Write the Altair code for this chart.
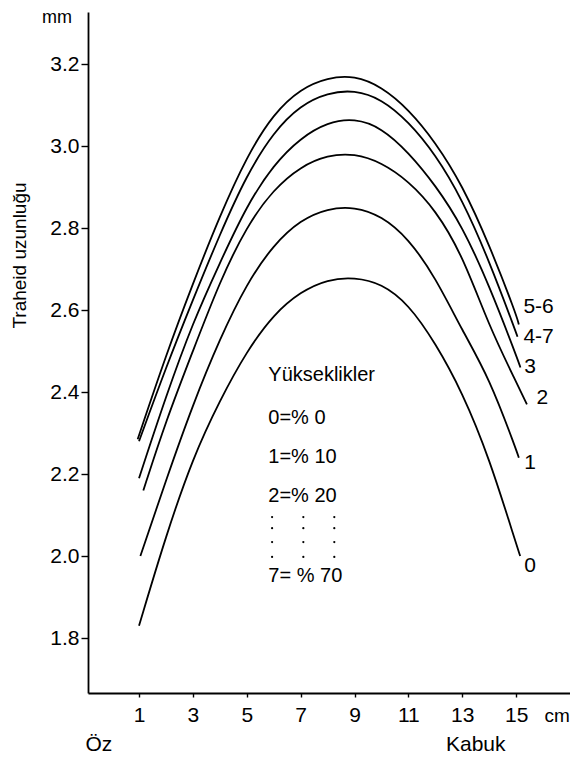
import altair as alt
import pandas as pd

FONT = "Liberation Sans"

# ---- curves: traheid length (mm) vs distance from pith (cm) at each height ----
c0_x = [1, 2, 3, 4, 5, 6, 7, 8, 9, 10, 11, 12, 13, 14, 15, 15.15]
c0_y = [1.83, 2.05, 2.24, 2.38, 2.50, 2.59, 2.645, 2.675, 2.68, 2.665, 2.615, 2.52, 2.40, 2.24, 2.03, 2.0]

c1_x = [1.05, 2, 3, 4, 5, 6, 7, 8, 9, 10, 11, 12, 13, 14, 15, 15.1]
c1_y = [2.0, 2.185, 2.37, 2.53, 2.665, 2.76, 2.82, 2.848, 2.852, 2.83, 2.775, 2.68, 2.55, 2.435, 2.26, 2.24]

c2_x = [1.16, 2, 3, 4, 5, 6, 7, 8, 9, 10, 11, 12, 13, 14, 15, 15.4]
c2_y = [2.16, 2.33, 2.50, 2.67, 2.805, 2.895, 2.95, 2.978, 2.982, 2.96, 2.915, 2.845, 2.735, 2.56, 2.425, 2.37]

c3_x = [1, 2, 3, 4, 5, 6, 7, 8, 9, 10, 11, 12, 13, 14, 15, 15.16]
c3_y = [2.19, 2.39, 2.57, 2.715, 2.855, 2.955, 3.02, 3.058, 3.068, 3.045, 2.985, 2.905, 2.805, 2.66, 2.49, 2.46]

c47_x = [1, 2, 3, 4, 5, 6, 7, 8, 9, 10, 11, 12, 13, 14, 15, 15.05]
c47_y = [2.28, 2.46, 2.625, 2.785, 2.93, 3.035, 3.10, 3.13, 3.137, 3.115, 3.06, 2.98, 2.87, 2.72, 2.545, 2.535]

c56_x = [0.95, 2, 3, 4, 5, 6, 7, 8, 9, 10, 11, 12, 13, 14, 15, 15.1]
c56_y = [2.285, 2.49, 2.665, 2.83, 2.975, 3.08, 3.14, 3.167, 3.172, 3.145, 3.09, 3.01, 2.905, 2.76, 2.59, 2.565]

curve_names = ["0", "1", "2", "3", "4-7", "5-6"]
curve_xs = [c0_x, c1_x, c2_x, c3_x, c47_x, c56_x]
curve_ys = [c0_y, c1_y, c2_y, c3_y, c47_y, c56_y]

# curve end labels (anchored in data units)
lab_text = ["5-6", "4-7", "3", "2", "1", "0"]
lab_x = [15.27, 15.27, 15.3, 15.76, 15.3, 15.3]
lab_v = [2.607, 2.534, 2.461, 2.385, 2.227, 1.976]

# legend block text
leg_text = ["Yükseklikler", "0=% 0", "1=% 10", "2=% 20", "7= % 70"]
leg_x = [5.8, 5.8, 5.8, 5.8, 5.8]
leg_v = [2.441, 2.337, 2.241, 2.146, 1.951]

dot_x = [5.94, 7.10, 8.25]
dot_v = [2.095, 2.068, 2.034, 1.998]

x_ticks = [1, 3, 5, 7, 9, 11, 13, 15]
y_ticks = [1.8, 2.0, 2.2, 2.4, 2.6, 2.8, 3.0, 3.2]

rows = []
for name, xs, ys in zip(curve_names, curve_xs, curve_ys):
    for xv, yv in zip(xs, ys):
        rows.append({"curve": name, "x": xv, "v": yv})
df = pd.DataFrame(rows)

df_lab = pd.DataFrame({"t": lab_text, "x": lab_x, "v": lab_v})
df_leg = pd.DataFrame({"t": leg_text, "x": leg_x, "v": leg_v})
df_dots = pd.DataFrame([{"x": a, "v": b} for a in dot_x for b in dot_v])
df_bottom = pd.DataFrame({"t": ["Öz", "Kabuk"], "x": [-0.49, 13.5]})
df_cm = pd.DataFrame({"t": ["cm"], "x": [16.05]})

xscale = alt.Scale(domain=[-0.894, 17.0], nice=False, zero=False)
yscale = alt.Scale(domain=[1.666, 3.327], nice=False, zero=False)

xax = alt.Axis(values=x_ticks, title=None, grid=False, domainColor="black", domainWidth=1.8,
               tickColor="black", tickWidth=1.4, tickSize=4, labelFontSize=21, labelColor="black",
               labelPadding=7, labelFlush=False, format="d")
yax = alt.Axis(values=y_ticks, format=".1f", title="Traheid uzunluğu", grid=False,
               domainColor="black", domainWidth=1.8, tickColor="black", tickWidth=1.4, tickSize=7,
               labelFontSize=21, labelColor="black", labelPadding=2,
               titleFontSize=19, titleFontWeight="normal", titleColor="black",
               titleX=-69, titleY=243, titleAngle=270, titleBaseline="middle")

lines = alt.Chart(df).mark_line(color="black", strokeWidth=1.8, interpolate="basis").encode(
    x=alt.X("x:Q", scale=xscale, axis=xax),
    y=alt.Y("v:Q", scale=yscale, axis=yax),
    detail="curve:N",
    order="x:Q",
)

labels = alt.Chart(df_lab).mark_text(align="left", baseline="middle", fontSize=21, color="black").encode(
    x=alt.X("x:Q", scale=xscale), y=alt.Y("v:Q", scale=yscale), text="t:N")

legend = alt.Chart(df_leg).mark_text(align="left", baseline="middle", fontSize=20, color="black").encode(
    x=alt.X("x:Q", scale=xscale), y=alt.Y("v:Q", scale=yscale), text="t:N")

dots = alt.Chart(df_dots).mark_circle(size=5, color="black", opacity=1).encode(
    x=alt.X("x:Q", scale=xscale), y=alt.Y("v:Q", scale=yscale))

bottom = alt.Chart(df_bottom).mark_text(align="center", baseline="middle", fontSize=21, color="black").encode(
    x=alt.X("x:Q", scale=xscale), y=alt.value(733), text="t:N")

cm = alt.Chart(df_cm).mark_text(align="left", baseline="middle", fontSize=19, color="black").encode(
    x=alt.X("x:Q", scale=xscale), y=alt.value(704), text="t:N")

mm = alt.Chart(pd.DataFrame({"t": ["mm"]})).mark_text(align="center", baseline="alphabetic", fontSize=18, color="black").encode(
    x=alt.value(-31), y=alt.value(11), text="t:N")

chart = alt.layer(lines, labels, legend, dots, bottom, cm, mm).properties(
    width=482, height=681,
    padding={"left": 80, "top": 4, "right": 0, "bottom": 62},
    autosize=alt.AutoSizeParams(type="none"),
).configure_view(strokeWidth=0).configure_axis(
    labelFont=FONT, titleFont=FONT
).configure_text(font=FONT)

chart.save("out.html", embed_options={"renderer": "svg", "actions": False})
